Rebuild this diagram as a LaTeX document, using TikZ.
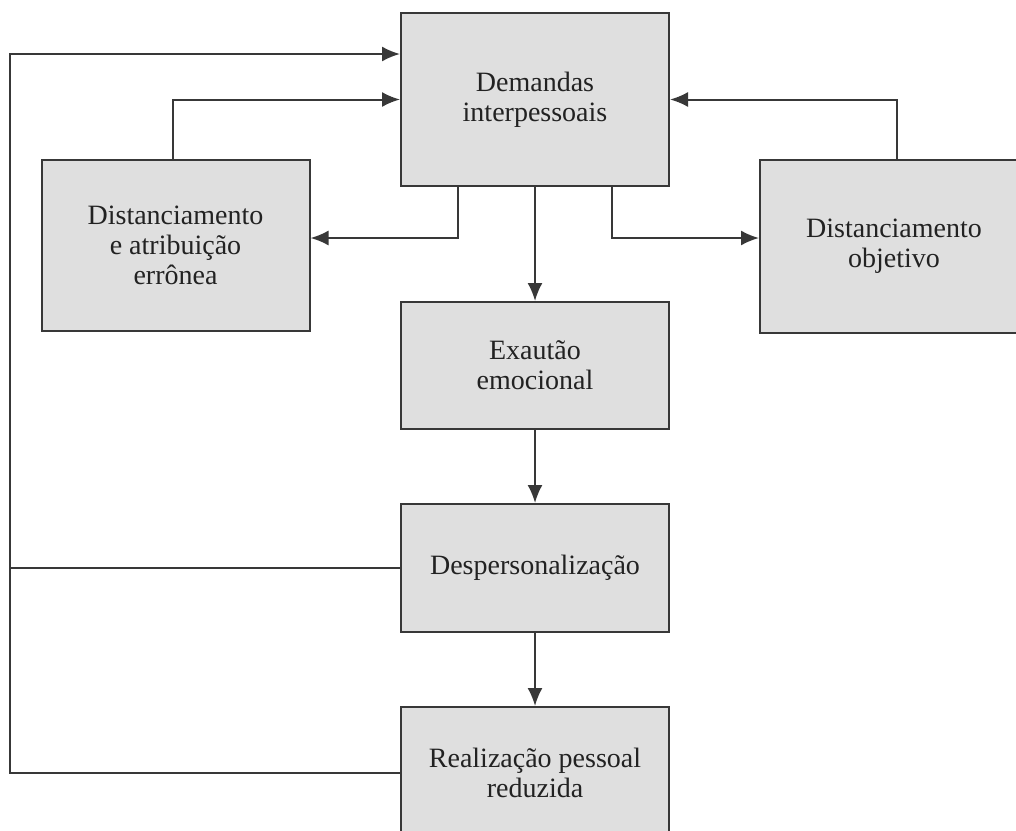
\documentclass[tikz,border=0pt]{standalone}
\usepackage{fontspec}
\setmainfont{Liberation Serif}
\usetikzlibrary{arrows.meta}
\definecolor{boxfill}{HTML}{DFDFDF}
\definecolor{boxline}{HTML}{383838}
\definecolor{txt}{HTML}{222222}
\begin{document}
\begin{tikzpicture}[x=1pt,y=-1pt,
  box/.style={draw=boxline,fill=boxfill,line width=2pt,rectangle,
    minimum width=268pt,align=center,text=txt,inner sep=0pt,
    font=\fontsize{28}{30}\selectfont},
  conn/.style={draw=boxline,line width=2pt},
  arr/.style={conn,-{Latex[length=18pt,width=15pt]}}]
\clip (0,0) rectangle (1016,830);
\useasboundingbox (0,0) rectangle (1016,830);
\fill[white] (0,0) rectangle (1016,830);

% boxes
\node[box,minimum height=173pt] (dem)  at (535,99.5)  {Demandas\\interpessoais};
\node[box,minimum height=171pt] (dist) at (175.5,245.5) {Distanciamento\\e atribuição\\errônea};
\node[box,minimum height=173pt] (obj)  at (894,246.5) {Distanciamento\\objetivo};
\node[box,minimum height=127pt] (exa)  at (535,365.5) {Exautão\\emocional};
\node[box,minimum height=128pt] (desp) at (535,568)   {Despersonalização};
\node[box,minimum height=132pt] (real) at (535,773)   {Realização pessoal\\reduzida};

% outer feedback loop on the left
\coordinate (lb) at (10,773);
\coordinate (lt) at (10,54);

% connectors
\draw[arr] (dem.south) -- (exa.north);
\draw[arr] (exa.south) -- (desp.north);
\draw[arr] (desp.south) -- (real.north);
\draw[arr] ([xshift=-77pt]dem.south) |- ([yshift=7.5pt]dist.east);
\draw[arr] ([xshift=77pt]dem.south) |- ([yshift=8.5pt]obj.west);
\draw[arr] ([xshift=-2.5pt]dist.north) |- (dem.west);
\draw[arr] ([xshift=3pt]obj.north) |- (dem.east);
\draw[arr] (real.west) -- (lb) -- (lt) -- ([yshift=45.5pt]dem.west);
\draw[conn] (desp.west) -- (desp.west -| lb);
\end{tikzpicture}
\end{document}
